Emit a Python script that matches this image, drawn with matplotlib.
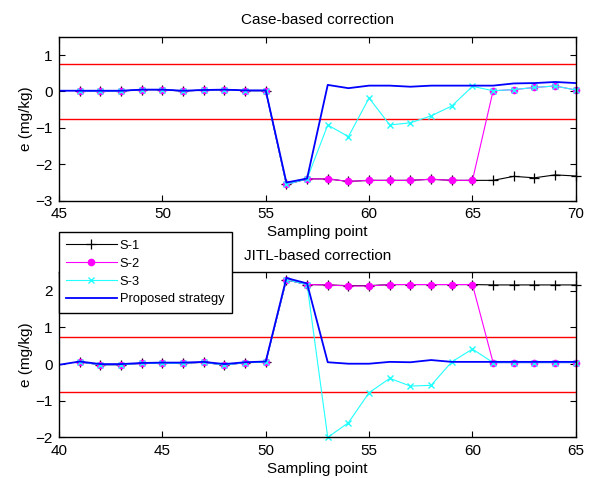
import numpy as np
import matplotlib
matplotlib.use("Agg")
import matplotlib.pyplot as plt

plt.rcParams['font.family'] = ['Liberation Sans', 'DejaVu Sans']
plt.rcParams['font.size'] = 11

# ---- Case-based correction (top) ----
x_top = np.arange(46, 71)
xb_top = np.arange(45, 71)
s1_top = [0.01, 0.01, 0.01, 0.05, 0.05, 0.01, 0.04, 0.05, 0.02, 0.02,
          -2.55, -2.40, -2.40, -2.47, -2.44, -2.44, -2.44, -2.41, -2.44, -2.44,
          -2.44, -2.33, -2.37, -2.29, -2.32]
s2_top = [0.01, 0.01, 0.01, 0.05, 0.05, 0.01, 0.04, 0.05, 0.02, 0.02,
          -2.55, -2.40, -2.40, -2.47, -2.44, -2.44, -2.44, -2.41, -2.44, -2.44,
          0.02, 0.05, 0.11, 0.15, 0.04]
s3_top = [0.01, 0.01, 0.01, 0.05, 0.05, 0.01, 0.04, 0.05, 0.02, 0.02,
          -2.55, -2.40, -0.92, -1.24, -0.18, -0.92, -0.86, -0.67, -0.40, 0.14,
          0.02, 0.05, 0.11, 0.15, 0.04]
prop_top = [0.02, 0.02, 0.02, 0.02, 0.05, 0.05, 0.02, 0.04, 0.05, 0.03, 0.03,
            -2.50, -2.39, 0.18, 0.09, 0.16, 0.16, 0.13, 0.16, 0.16, 0.16,
            0.16, 0.22, 0.23, 0.26, 0.23]

# ---- JITL-based correction (bottom) ----
x_bot = np.arange(41, 66)
xb_bot = np.arange(40, 66)
s1_bot = [0.06, -0.02, -0.02, 0.02, 0.02, 0.02, 0.05, -0.03, 0.04, 0.05,
          2.30, 2.17, 2.16, 2.14, 2.14, 2.17, 2.17, 2.17, 2.17, 2.17,
          2.16, 2.16, 2.16, 2.16, 2.16]
s2_bot = [0.06, -0.02, -0.02, 0.02, 0.02, 0.02, 0.05, -0.03, 0.04, 0.05,
          2.30, 2.17, 2.16, 2.13, 2.13, 2.17, 2.17, 2.17, 2.17, 2.17,
          0.04, 0.04, 0.04, 0.04, 0.04]
s3_bot = [0.06, -0.02, -0.02, 0.02, 0.02, 0.02, 0.05, -0.03, 0.04, 0.05,
          2.30, 2.17, -2.00, -1.60, -0.78, -0.39, -0.60, -0.58, 0.06, 0.41,
          0.04, 0.04, 0.04, 0.04, 0.04]
prop_bot = [-0.02, 0.07, 0.00, 0.00, 0.03, 0.04, 0.04, 0.06, 0.00, 0.05, 0.07,
            2.35, 2.20, 0.05, 0.01, 0.01, 0.06, 0.05, 0.11, 0.06, 0.06,
            0.06, 0.06, 0.06, 0.06, 0.06]

limit = 0.75

fig = plt.figure(figsize=(5.93, 4.78), dpi=100)
ax1 = fig.add_axes([0.0995, 0.580, 0.8715, 0.343])
ax2 = fig.add_axes([0.0995, 0.085, 0.8715, 0.345])


def draw(ax, xs, xb, s1, s2, s3, prop, xlim, ylim, yticks, title):
    ax.axhline(limit, color='#ff0000', lw=1.0)
    ax.axhline(-limit, color='#ff0000', lw=1.0)
    ax.plot(xs, s1, color='k', lw=0.8, marker='+', ms=7, mew=0.9,
            label='S-1', clip_on=False)
    ax.plot(xs, s2, color='#ff00ff', lw=0.8, marker='o', ms=4.5,
            label='S-2', clip_on=False)
    ax.plot(xs, s3, color='#22ffff', lw=0.8, marker='x', ms=5, mew=1.0,
            label='S-3', clip_on=False)
    ax.plot(xb, prop, color='#0000ff', lw=1.3, label='Proposed strategy')
    ax.set_xlim(*xlim)
    ax.set_ylim(*ylim)
    ax.set_xticks(np.arange(xlim[0], xlim[1] + 1, 5))
    ax.set_yticks(yticks)
    ax.tick_params(direction='in', top=True, right=True, length=4,
                   width=0.8, pad=4.5)
    for sp in ax.spines.values():
        sp.set_linewidth(1.0)
    ax.set_xlabel('Sampling point', labelpad=3)
    ax.set_ylabel('e (mg/kg)', labelpad=2)
    ax.set_title(title, fontsize=11, pad=9)


draw(ax1, x_top, xb_top, s1_top, s2_top, s3_top, prop_top,
     (45, 70), (-3, 1.5), [-3, -2, -1, 0, 1], 'Case-based correction')
draw(ax2, x_bot, xb_bot, s1_bot, s2_bot, s3_bot, prop_bot,
     (40, 65), (-2, 2.5), [-2, -1, 0, 1, 2], 'JITL-based correction')

handles, labels = ax2.get_legend_handles_labels()
leg = fig.legend(handles, labels, loc='upper left',
                 bbox_to_anchor=(0.0987, 0.5146), borderaxespad=0,
                 fancybox=False, framealpha=1, edgecolor='k',
                 numpoints=1, handlelength=3.9, handletextpad=0.25,
                 labelspacing=0.45, borderpad=0.6, fontsize=9.3)
leg.get_frame().set_linewidth(1.0)

fig.savefig('out.png', dpi=100, facecolor='white')
